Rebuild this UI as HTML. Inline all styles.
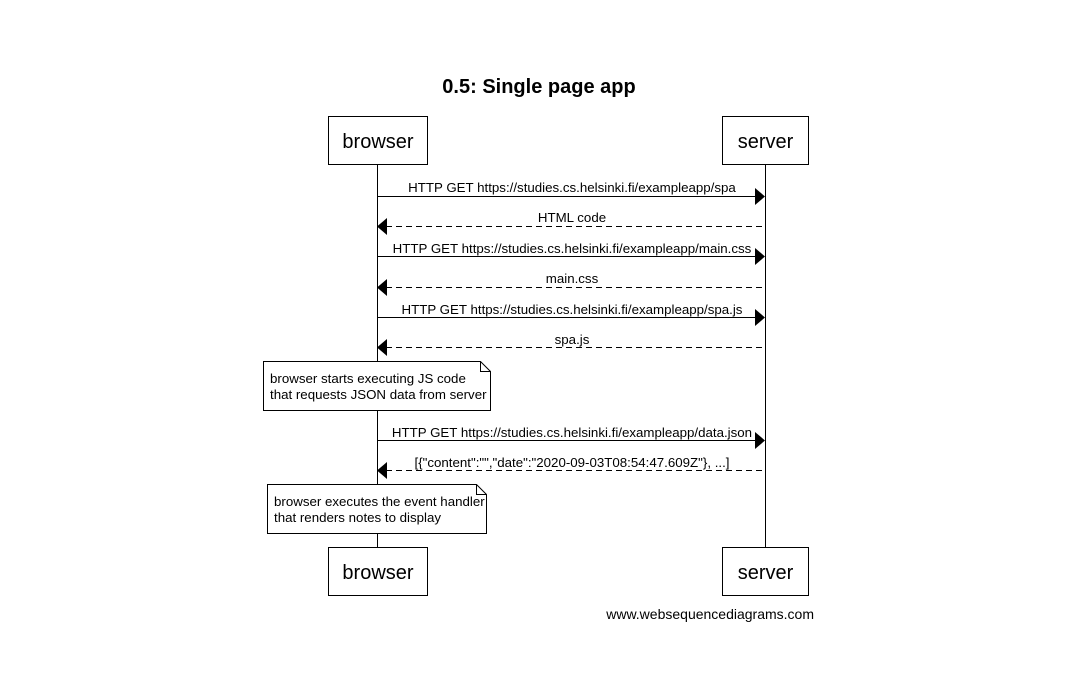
<!DOCTYPE html>
<html><head><style>body{margin:0;background:#fff}</style></head><body>
<svg width="1086" height="688" xmlns="http://www.w3.org/2000/svg" font-family="Liberation Sans, sans-serif">
<rect width="1086" height="688" fill="#fff"/>
<text x="539" y="93" font-size="20" font-weight="bold" text-anchor="middle">0.5: Single page app</text>
<g stroke="#000" fill="#fff" stroke-width="1">
<line x1="377.5" y1="164" x2="377.5" y2="547"/>
<line x1="765.5" y1="164" x2="765.5" y2="547"/>
<rect x="328.5" y="116.5" width="99" height="48"/>
<rect x="722.5" y="116.5" width="86" height="48"/>
<rect x="328.5" y="547.5" width="99" height="48"/>
<rect x="722.5" y="547.5" width="86" height="48"/>
</g>
<g font-size="20" text-anchor="middle">
<text x="378" y="148">browser</text><text x="765.5" y="148">server</text>
<text x="378" y="579">browser</text><text x="765.5" y="579">server</text>
</g>
<g stroke="#000" stroke-width="1">
<line x1="378" y1="196.5" x2="756" y2="196.5"/>
<line x1="386" y1="226.5" x2="765" y2="226.5" stroke-dasharray="6,4"/>
<line x1="378" y1="256.5" x2="756" y2="256.5"/>
<line x1="386" y1="287.5" x2="765" y2="287.5" stroke-dasharray="6,4"/>
<line x1="378" y1="317.5" x2="756" y2="317.5"/>
<line x1="386" y1="347.5" x2="765" y2="347.5" stroke-dasharray="6,4"/>
<line x1="378" y1="440.5" x2="756" y2="440.5"/>
<line x1="386" y1="470.5" x2="765" y2="470.5" stroke-dasharray="6,4"/>
</g>
<g fill="#000">
<polygon points="755,188 765,196.5 755,205"/>
<polygon points="387,218 377,226.5 387,235"/>
<polygon points="755,248 765,256.5 755,265"/>
<polygon points="387,279 377,287.5 387,296"/>
<polygon points="755,309 765,317.5 755,326"/>
<polygon points="387,339 377,347.5 387,356"/>
<polygon points="755,432 765,440.5 755,449"/>
<polygon points="387,462 377,470.5 387,479"/>
</g>
<g font-size="13.3" text-anchor="middle">
<text x="572" y="192">HTTP GET https://studies.cs.helsinki.fi/exampleapp/spa</text>
<text x="572" y="222">HTML code</text>
<text x="572" y="253">HTTP GET https://studies.cs.helsinki.fi/exampleapp/main.css</text>
<text x="572" y="283">main.css</text>
<text x="572" y="314">HTTP GET https://studies.cs.helsinki.fi/exampleapp/spa.js</text>
<text x="572" y="344">spa.js</text>
<text x="572" y="437">HTTP GET https://studies.cs.helsinki.fi/exampleapp/data.json</text>
<text x="572" y="467">[{"content":"","date":"2020-09-03T08:54:47.609Z"}, ...]</text>
</g>
<g stroke="#000" fill="#fff">
<path d="M263.5 361.5 H480.5 L490.5 371.5 V410.5 H263.5 Z"/>
<path d="M480.5 361.5 V371.5 H490.5" fill="none"/>
<path d="M267.5 484.5 H476.5 L486.5 494.5 V533.5 H267.5 Z"/>
<path d="M476.5 484.5 V494.5 H486.5" fill="none"/>
</g>
<g font-size="13.3">
<text x="270" y="383">browser starts executing JS code</text>
<text x="270" y="399">that requests JSON data from server</text>
<text x="274" y="506">browser executes the event handler</text>
<text x="274" y="522">that renders notes to display</text>
</g>
<text x="814" y="619" font-size="14" text-anchor="end">www.websequencediagrams.com</text>
</svg>
</body></html>
